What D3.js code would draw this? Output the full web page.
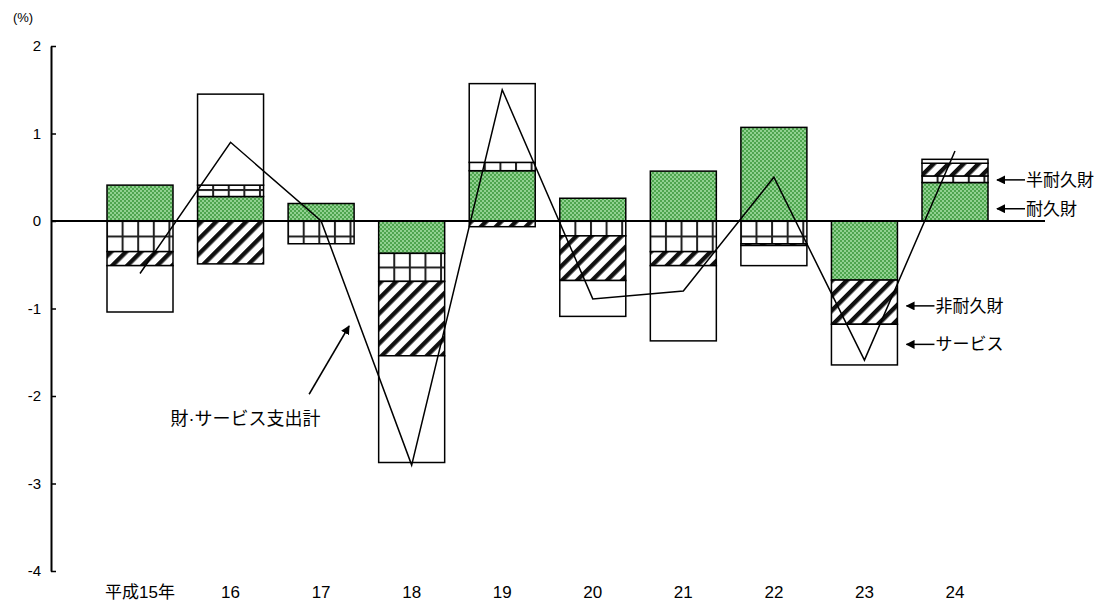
<!DOCTYPE html>
<html>
<head>
<meta charset="utf-8">
<script src="https://cdn.jsdelivr.net/npm/d3@7"></script>
<style>
 body{margin:0;background:#fff;}
 text{font-family:"Liberation Sans","Noto Sans CJK JP",sans-serif;}
</style>
</head>
<body>
<div id="chart"></div>
<script>
// years (平成) and the contributions of each component, in %
var years = ["平成15年","16","17","18","19","20","21","22","23","24"];
var durable    = [0.41, 0.28, 0.20, -0.37, 0.575, 0.26, 0.57, 1.07, -0.675, 0.44];
var semiDur    = [-0.35, 0.13, -0.26, -0.32, 0.095, -0.17, -0.35, -0.26, 0, 0.075];
var nonDurable = [-0.16, -0.49, 0, -0.85, -0.065, -0.51, -0.16, -0.02, -0.505, 0.145];
var service    = [-0.53, 1.04, 0, -1.22, 0.90, -0.41, -0.86, -0.23, -0.465, 0.045];
var total      = [-0.6, 0.9, 0.0, -2.79, 1.5, -0.89, -0.8, 0.5, -1.59, 0.8];
var yTicks = [2, 1, 0, -1, -2, -3, -4];

var width = 1107, height = 603;
var keys = ["durable","semi","non","service"];

var rows = years.map(function(y,i){
  return {year:y, durable:durable[i], semi:semiDur[i], non:nonDurable[i], service:service[i]};
});

var svg = d3.select("#chart").append("svg")
  .attr("width", width).attr("height", height);

var x = d3.scalePoint().domain(years).range([140, 955]);
var y = d3.scaleLinear().domain([-4, 2]).range([571, 46]);
var barW = 66;

var defs = svg.append("defs");

// green checker for 耐久財
var pg = defs.append("pattern").attr("id","pGreen")
  .attr("patternUnits","userSpaceOnUse").attr("width",4).attr("height",4);
pg.append("rect").attr("width",4).attr("height",4).attr("fill","#90d190");
pg.append("rect").attr("width",2).attr("height",2).attr("fill","#4ea54e");
pg.append("rect").attr("x",2).attr("y",2).attr("width",2).attr("height",2).attr("fill","#4ea54e");

// diagonal hatch for 非耐久財
var ph = defs.append("pattern").attr("id","pHatch")
  .attr("patternUnits","userSpaceOnUse").attr("width",10.6).attr("height",10.6)
  .attr("patternTransform","rotate(45)");
ph.append("rect").attr("width",10.6).attr("height",10.6).attr("fill","#fff");
ph.append("rect").attr("width",4.4).attr("height",10.6).attr("fill","#111");

// grid for 半耐久財, one per bar so the cells start at the bar edge
years.forEach(function(yr,i){
  var p = defs.append("pattern").attr("id","pGrid"+i)
    .attr("patternUnits","userSpaceOnUse").attr("width",15.6).attr("height",15.5)
    .attr("x", x(yr)-barW/2-1).attr("y", y(0)-1);
  p.append("rect").attr("width",15.6).attr("height",15.5).attr("fill","#fff");
  p.append("rect").attr("width",2).attr("height",15.5).attr("fill","#222");
  p.append("rect").attr("width",15.6).attr("height",2).attr("fill","#222");
});

var fills = {
  durable: function(){ return "url(#pGreen)"; },
  semi: function(i){ return "url(#pGrid"+i+")"; },
  non: function(){ return "url(#pHatch)"; },
  service: function(){ return "#fff"; }
};

var stack = d3.stack().keys(keys).offset(d3.stackOffsetDiverging);
var series = stack(rows);

// bars
series.forEach(function(s){
  svg.append("g").selectAll("rect")
    .data(s.map(function(d,i){ return {d:d, i:i}; }).filter(function(o){ return o.d[1] !== o.d[0]; }))
    .join("rect")
    .attr("x", function(o){ return x(years[o.i]) - barW/2; })
    .attr("y", function(o){ return y(Math.max(o.d[0], o.d[1])); })
    .attr("width", barW)
    .attr("height", function(o){ return Math.abs(y(o.d[0]) - y(o.d[1])); })
    .attr("fill", function(o){ return fills[s.key](o.i); })
    .attr("stroke","#000").attr("stroke-width",1.5);
});

// zero line
svg.append("line")
  .attr("x1", 51).attr("x2", 1045)
  .attr("y1", y(0)).attr("y2", y(0))
  .attr("stroke","#000").attr("stroke-width",2);

// total line
var line = d3.line()
  .x(function(d,i){ return x(years[i]); })
  .y(function(d){ return y(d); });
svg.append("path").datum(total)
  .attr("d", line).attr("fill","none")
  .attr("stroke","#000").attr("stroke-width",1.5);

// y axis
var yAxis = d3.axisLeft(y).tickValues(yTicks).tickSize(-5).tickSizeOuter(0).tickPadding(10)
  .tickFormat(function(d){ return String(d); });
var ga = svg.append("g").attr("transform","translate(51,0)").call(yAxis);
ga.select(".domain").attr("stroke","#000").attr("stroke-width",2);
ga.selectAll(".tick line").attr("stroke","#000").attr("stroke-width",1.5);
ga.selectAll("text").attr("font-size",15).attr("fill","#000")
  .attr("font-family","Liberation Sans, sans-serif");

svg.append("text").attr("x",23).attr("y",22).attr("text-anchor","middle")
  .attr("font-size",13).text("(%)");

// category labels
svg.append("g").selectAll("text").data(years).join("text")
  .attr("x", function(d){ return x(d); })
  .attr("y", 598)
  .attr("text-anchor","middle")
  .attr("font-size",17)
  .text(function(d){ return d; });

// arrows and notes
defs.append("marker").attr("id","ah").attr("viewBox","0 0 10 10")
  .attr("refX",9).attr("refY",5).attr("markerWidth",9).attr("markerHeight",9)
  .attr("markerUnits","userSpaceOnUse").attr("orient","auto")
  .append("path").attr("d","M0,0L10,5L0,10z").attr("fill","#000");

svg.append("line")
  .attr("x1", x("17")-12).attr("y1", y(-1.98))
  .attr("x2", x("17")+28).attr("y2", y(-1.2))
  .attr("stroke","#000").attr("stroke-width",1.5).attr("marker-end","url(#ah)");
svg.append("text").attr("x", x("16")+15).attr("y", y(-2.33))
  .attr("text-anchor","middle").attr("font-size",18).text("財·サービス支出計");

var notes = [
  {label:"半耐久財", tipX: x("24")+42, v:0.47},
  {label:"耐久財",   tipX: x("24")+42, v:0.14},
  {label:"非耐久財", tipX: x("23")+42, v:-0.97},
  {label:"サービス", tipX: x("23")+42, v:-1.41}
];
notes.forEach(function(n){
  svg.append("line")
    .attr("x1", n.tipX+28).attr("y1", y(n.v))
    .attr("x2", n.tipX).attr("y2", y(n.v))
    .attr("stroke","#000").attr("stroke-width",1.5).attr("marker-end","url(#ah)");
  svg.append("text").attr("x", n.tipX+29).attr("y", y(n.v)+6)
    .attr("font-size",17).text(n.label);
});
</script>
</body>
</html>
